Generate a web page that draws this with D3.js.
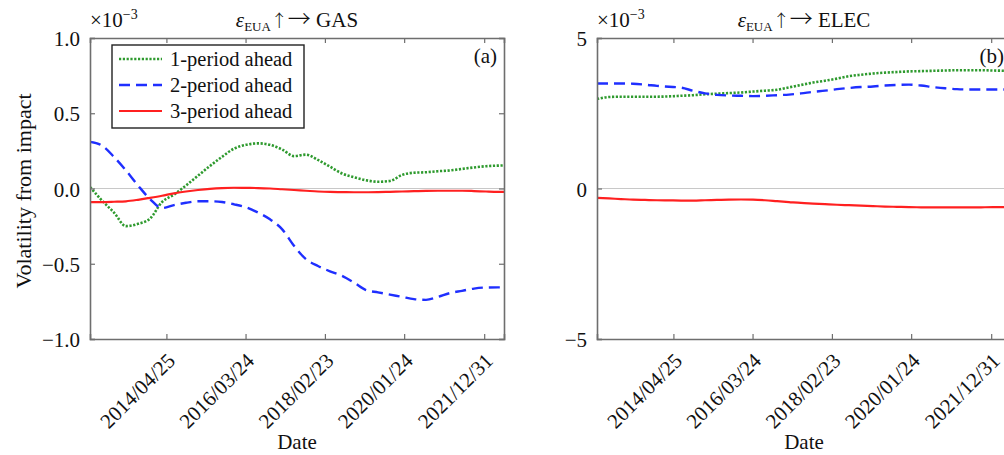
<!DOCTYPE html>
<html>
<head>
<meta charset="utf-8">
<script src="https://cdn.jsdelivr.net/npm/d3@7/dist/d3.min.js"></script>
<style>
  html, body { margin: 0; padding: 0; background: #fff; overflow: hidden; }
  svg text { font-family: "Liberation Serif", "Times New Roman", serif; fill: #111; }
  svg text tspan.arrow { font-family: "Noto Sans CJK JP", "DejaVu Sans", sans-serif; font-weight: 300; }
</style>
</head>
<body>
<svg id="chart" width="1004" height="455"></svg>
<script>
// Observation dates (sampled grid of the estimation window)
const dates = [
  "2012-06-19","2012-10-03","2013-01-17","2013-05-03","2013-08-17","2013-12-01",
  "2014-03-17","2014-07-01","2014-10-15","2015-01-29","2015-05-15","2015-08-29",
  "2015-12-13","2016-03-28","2016-07-12","2016-10-26","2017-02-09","2017-05-26",
  "2017-09-09","2017-12-24","2018-04-09","2018-07-24","2018-11-07","2019-02-21",
  "2019-06-07","2019-09-21","2020-01-05","2020-04-20","2020-08-04","2020-11-18",
  "2021-03-04","2021-06-18","2021-10-02","2022-01-16","2022-05-02","2022-06-24"
];

// Panel (a): EUA shock -> GAS, values in units of 1e-3
const gas1 = [0.01,-0.08,-0.16,-0.25,-0.235,-0.20,-0.09,-0.04,0.02,0.085,0.15,0.21,
  0.265,0.29,0.30,0.29,0.26,0.215,0.225,0.19,0.145,0.10,0.075,0.055,
  0.045,0.05,0.09,0.105,0.108,0.115,0.12,0.13,0.14,0.148,0.152,0.153];
const gas2 = [0.31,0.285,0.21,0.12,0.02,-0.07,-0.13,-0.11,-0.095,-0.085,-0.085,-0.09,
  -0.105,-0.125,-0.16,-0.205,-0.27,-0.38,-0.47,-0.515,-0.55,-0.58,-0.625,-0.675,
  -0.69,-0.705,-0.72,-0.735,-0.74,-0.72,-0.695,-0.68,-0.665,-0.658,-0.657,-0.657];
const gas3 = [-0.09,-0.09,-0.088,-0.085,-0.075,-0.062,-0.048,-0.032,-0.02,-0.01,-0.002,0.003,
  0.005,0.004,0.003,0.0,-0.005,-0.01,-0.015,-0.02,-0.023,-0.024,-0.025,-0.025,
  -0.024,-0.022,-0.02,-0.018,-0.016,-0.015,-0.015,-0.015,-0.017,-0.02,-0.022,-0.022];

// Panel (b): EUA shock -> ELEC, values in units of 1e-3
const elec1 = [2.97,3.04,3.05,3.05,3.05,3.05,3.06,3.08,3.10,3.13,3.15,3.17,
  3.19,3.22,3.25,3.28,3.36,3.44,3.52,3.58,3.65,3.73,3.78,3.82,
  3.85,3.87,3.89,3.90,3.91,3.92,3.93,3.93,3.93,3.92,3.91,3.90];
const elec2 = [3.49,3.49,3.49,3.48,3.45,3.41,3.38,3.35,3.25,3.16,3.11,3.09,
  3.08,3.07,3.08,3.10,3.12,3.16,3.21,3.25,3.30,3.34,3.37,3.39,
  3.42,3.44,3.45,3.42,3.37,3.33,3.30,3.29,3.29,3.29,3.29,3.29];
const elec3 = [-0.31,-0.33,-0.35,-0.37,-0.38,-0.39,-0.395,-0.40,-0.40,-0.39,-0.38,-0.37,
  -0.365,-0.37,-0.39,-0.42,-0.45,-0.48,-0.50,-0.52,-0.54,-0.555,-0.57,-0.585,
  -0.60,-0.61,-0.62,-0.625,-0.63,-0.63,-0.63,-0.63,-0.625,-0.62,-0.62,-0.62];

const dateTicks = ["2014/04/25","2016/03/24","2018/02/23","2020/01/24","2021/12/31"];
const gasTicks = [1.0, 0.5, 0.0, -0.5, -1.0];
const elecTicks = [5, 0, -5];
const seriesNames = ["1-period ahead","2-period ahead","3-period ahead"];

const parse = d3.timeParse("%Y-%m-%d");
const parseTick = d3.timeParse("%Y/%m/%d");
const dateVals = dates.map(parse);
const tickDates = dateTicks.map(parseTick);

const styles = [
  { color: "#2e9a2e", dash: "2.2,1.6", width: 2.6 },
  { color: "#1f2fff", dash: "11,6", width: 2.4 },
  { color: "#ff2020", dash: null, width: 2.2 }
];

const svg = d3.select("#chart");
const frameColor = "#6e6e6e";
const W = 414, H = 301, plotTop = 38;

function minus(s) { return String(s).replace("-", "\u2212"); }

function drawPanel(opt) {
  const g = svg.append("g").attr("transform", `translate(${opt.left},${plotTop})`);
  const x = d3.scaleTime().domain([dateVals[0], dateVals[dateVals.length - 1]]).range([0, W]);
  const y = d3.scaleLinear().domain(opt.domain).range([H, 0]);

  const clipId = "clip-" + opt.key;
  g.append("clipPath").attr("id", clipId)
    .append("rect").attr("width", W).attr("height", H);

  // zero reference line
  g.append("line").attr("x1", 0).attr("x2", W)
    .attr("y1", y(0)).attr("y2", y(0))
    .attr("stroke", "#c8c8c8").attr("stroke-width", 1);

  // series
  const line = d3.line()
    .x((d, i) => x(dateVals[i]))
    .y(d => y(d))
    .curve(d3.curveMonotoneX);
  const lines = g.append("g").attr("clip-path", `url(#${clipId})`);
  opt.series.forEach((s, k) => {
    lines.append("path").datum(s)
      .attr("d", line)
      .attr("fill", "none")
      .attr("stroke", styles[k].color)
      .attr("stroke-width", styles[k].width)
      .attr("stroke-dasharray", styles[k].dash)
      .attr("stroke-linecap", "butt");
  });

  // axes with inward ticks on all four sides
  const fmt = opt.format;
  const axL = d3.axisLeft(y).tickValues(opt.yTicks).tickSize(-5).tickPadding(10).tickFormat(d => minus(fmt(d)));
  const axR = d3.axisRight(y).tickValues(opt.yTicks).tickSize(-5).tickFormat("");
  const axB = d3.axisBottom(x).tickValues(tickDates).tickSize(-5).tickFormat("");
  const axT = d3.axisTop(x).tickValues(tickDates).tickSize(-5).tickFormat("");

  const gl = g.append("g").call(axL);
  g.append("g").attr("transform", `translate(${W},0)`).call(axR);
  g.append("g").attr("transform", `translate(0,${H})`).call(axB);
  g.append("g").call(axT);

  g.selectAll(".domain").attr("stroke", frameColor).attr("stroke-width", 1.6);
  g.selectAll(".tick line").attr("stroke", frameColor).attr("stroke-width", 1.2);
  gl.selectAll(".tick text").attr("font-size", 21).attr("fill", "#111")
    .attr("font-family", "Liberation Serif, serif").attr("dy", "0.36em");

  // rotated date labels
  g.append("g").selectAll("text").data(tickDates).join("text")
    .attr("transform", (d, i) => `translate(${x(d) + 10},${H + 23}) rotate(-45)`)
    .attr("text-anchor", "end")
    .attr("font-size", 21)
    .text((d, i) => dateTicks[i]);

  // axis title
  g.append("text").attr("x", W / 2).attr("y", 449 - plotTop)
    .attr("text-anchor", "middle").attr("font-size", 21).text("Date");

  // scale multiplier
  const mult = g.append("text").attr("x", 0).attr("y", -11).attr("font-size", 21);
  mult.append("tspan").text("\u00d710");
  mult.append("tspan").attr("font-size", 14).attr("dy", -8).text("\u22123");

  // panel title
  const t = g.append("text").attr("x", W / 2).attr("y", -11)
    .attr("text-anchor", "middle").attr("font-size", 21);
  t.append("tspan").attr("font-style", "italic").text("\u03b5");
  t.append("tspan").attr("font-size", 13).attr("dy", 4).text("EUA");
  t.append("tspan").attr("class", "arrow").attr("dy", -4).attr("font-size", 17).text("\u2191");
  t.append("tspan").attr("class", "arrow").attr("font-size", 23).text("\u2192");
  t.append("tspan").text(" " + opt.target);

  // panel tag
  g.append("text").attr("x", W - 7).attr("y", 25)
    .attr("text-anchor", "end").attr("font-size", 21).text(opt.tag);

  return g;
}

const gA = drawPanel({
  key: "a", left: 90, domain: [-1, 1], yTicks: gasTicks,
  format: d3.format(".1f"), series: [gas1, gas2, gas3], target: "GAS", tag: "(a)"
});
drawPanel({
  key: "b", left: 597, domain: [-5, 5], yTicks: elecTicks,
  format: d3.format("d"), series: [elec1, elec2, elec3], target: "ELEC", tag: "(b)"
});

// y-axis title
svg.append("text")
  .attr("transform", "translate(31,191) rotate(-90)")
  .attr("text-anchor", "middle").attr("font-size", 22)
  .text("Volatility from impact");

// legend in panel (a)
const lg = gA.append("g").attr("transform", "translate(22,7)");
lg.append("rect").attr("width", 192).attr("height", 83)
  .attr("fill", "#fff").attr("stroke", "#222").attr("stroke-width", 1.4);
seriesNames.forEach((name, k) => {
  const yy = 14 + k * 26;
  lg.append("line").attr("x1", 7).attr("x2", 50).attr("y1", yy).attr("y2", yy)
    .attr("stroke", styles[k].color).attr("stroke-width", styles[k].width)
    .attr("stroke-dasharray", styles[k].dash);
  lg.append("text").attr("x", 58).attr("y", yy).attr("dy", "0.35em")
    .attr("font-size", 20.5).text(name);
});
</script>
</body>
</html>
